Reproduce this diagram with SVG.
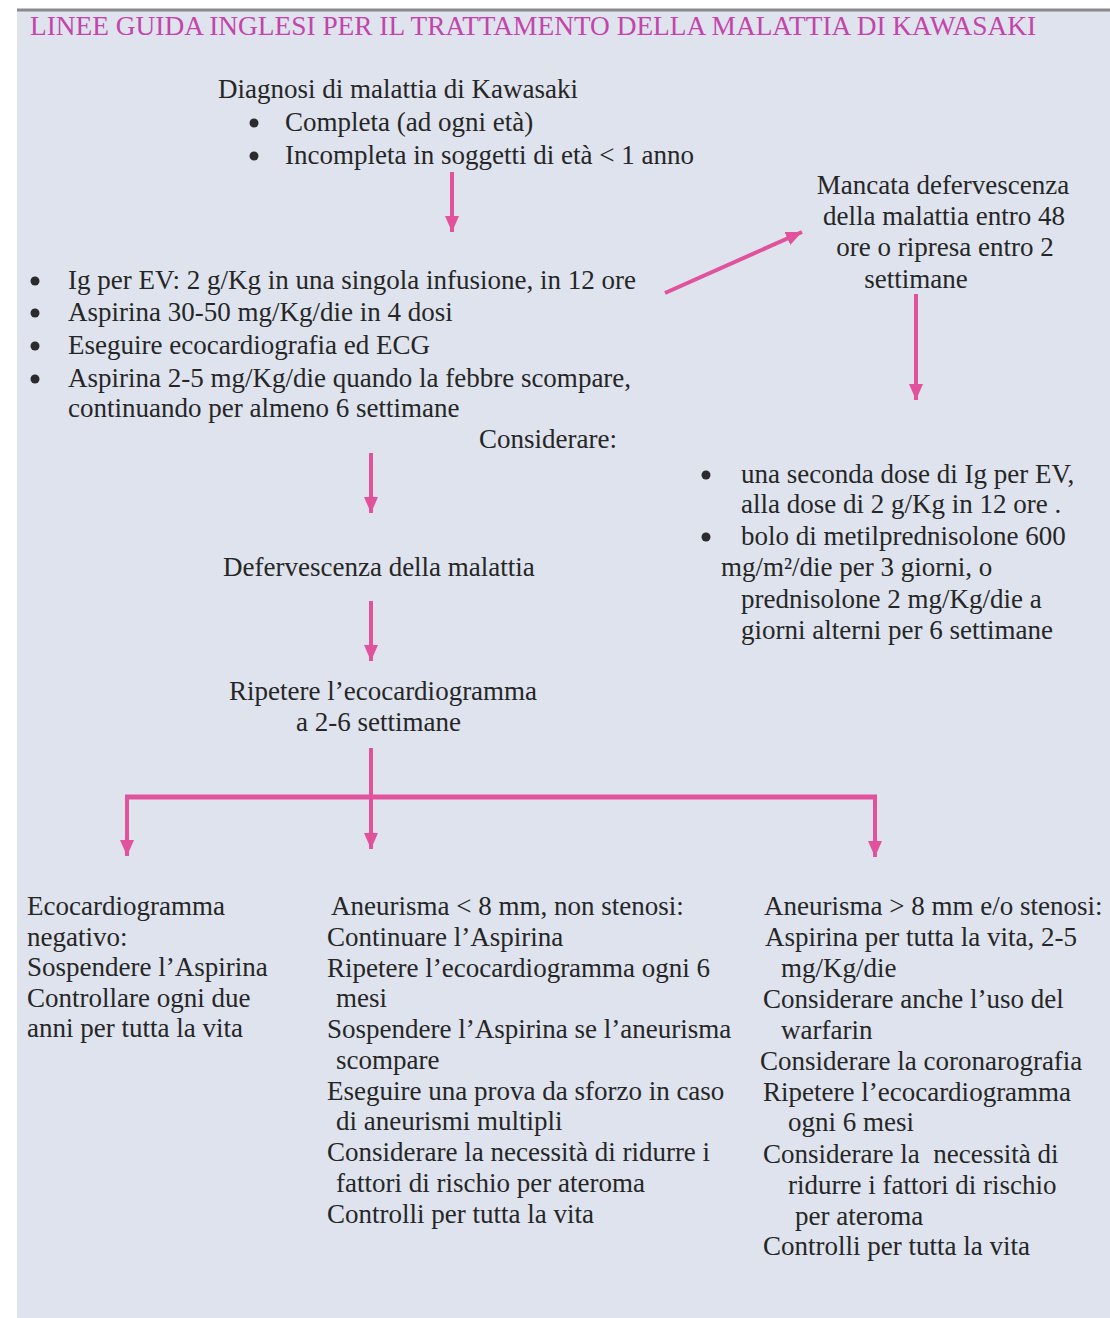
<svg xmlns="http://www.w3.org/2000/svg" width="1110" height="1318" viewBox="0 0 1110 1318">
<style>
  text { font-family: "Liberation Serif", "Times New Roman", serif; font-size: 27px; fill: #262626; }
  .title { fill: #c444ac; font-size: 28px; }
  .c { text-anchor: middle; }
  .dot { fill: #2b2b2b; }
  .arr { stroke: #e2529c; stroke-width: 4; fill: none; }
  .bar { stroke: #e2529c; stroke-width: 5; fill: none; }
</style>
<defs>
  <marker id="ah" viewBox="0 0 16 14" refX="16" refY="7" markerWidth="16" markerHeight="14" markerUnits="userSpaceOnUse" orient="auto">
    <path d="M0,0 L16,7 L0,14 z" fill="#e2529c"/>
  </marker>
</defs>
<rect x="0" y="0" width="1110" height="1318" fill="#ffffff"/>
<rect x="17" y="10" width="1093" height="1308" fill="#dee3ed"/>
<line x1="17" y1="10" x2="1110" y2="10" stroke="#8a8a8a" stroke-width="3"/>

<g id="title">
  <text class="title" x="30" y="35" textLength="1006" lengthAdjust="spacingAndGlyphs">LINEE GUIDA INGLESI PER IL TRATTAMENTO DELLA MALATTIA DI KAWASAKI</text>
</g>

<g id="diagnosi">
  <text x="218" y="98">Diagnosi di malattia di Kawasaki</text>
  <circle class="dot" cx="254" cy="123" r="4.5"/>
  <text x="285" y="131">Completa (ad ogni età)</text>
  <circle class="dot" cx="254" cy="156" r="4.5"/>
  <text x="285" y="164">Incompleta in soggetti di età &lt; 1 anno</text>
</g>

<g id="mancata">
  <text class="c" x="943" y="194">Mancata defervescenza</text>
  <text class="c" x="944" y="225">della malattia entro 48</text>
  <text class="c" x="945" y="256">ore o ripresa entro 2</text>
  <text class="c" x="916" y="288">settimane</text>
</g>

<g id="terapia">
  <circle class="dot" cx="35" cy="281" r="4.5"/>
  <text x="68" y="289">Ig per EV: 2 g/Kg in una singola infusione, in 12 ore</text>
  <circle class="dot" cx="35" cy="313" r="4.5"/>
  <text x="68" y="321">Aspirina 30-50 mg/Kg/die in 4 dosi</text>
  <circle class="dot" cx="35" cy="346" r="4.5"/>
  <text x="68" y="354">Eseguire ecocardiografia ed ECG</text>
  <circle class="dot" cx="35" cy="379" r="4.5"/>
  <text x="68" y="387">Aspirina 2-5 mg/Kg/die quando la febbre scompare,</text>
  <text x="68" y="417">continuando per almeno 6 settimane</text>
  <text x="479" y="448">Considerare:</text>
</g>

<g id="seconda-linea">
  <circle class="dot" cx="706" cy="475" r="4.5"/>
  <text x="741" y="483">una seconda dose di Ig per EV,</text>
  <text x="741" y="513">alla dose di 2 g/Kg in 12 ore .</text>
  <circle class="dot" cx="706" cy="537" r="4.5"/>
  <text x="741" y="545">bolo di metilprednisolone 600</text>
  <text x="721" y="576">mg/m²/die per 3 giorni, o</text>
  <text x="741" y="608">prednisolone 2 mg/Kg/die a</text>
  <text x="741" y="639">giorni alterni per 6 settimane</text>
</g>

<g id="defervescenza">
  <text x="223" y="576">Defervescenza della malattia</text>
</g>

<g id="ripetere">
  <text x="229" y="700">Ripetere l’ecocardiogramma</text>
  <text x="296" y="731">a 2-6 settimane</text>
</g>

<g id="negativo">
  <text x="27" y="915">Ecocardiogramma</text>
  <text x="27" y="946">negativo:</text>
  <text x="27" y="976">Sospendere l’Aspirina</text>
  <text x="27" y="1007">Controllare ogni due</text>
  <text x="27" y="1037">anni per tutta la vita</text>
</g>

<g id="aneurisma-piccolo">
  <text x="331" y="915">Aneurisma &lt; 8 mm, non stenosi:</text>
  <text x="327" y="946">Continuare l’Aspirina</text>
  <text x="327" y="977">Ripetere l’ecocardiogramma ogni 6</text>
  <text x="336" y="1007">mesi</text>
  <text x="327" y="1038">Sospendere l’Aspirina se l’aneurisma</text>
  <text x="336" y="1069">scompare</text>
  <text x="327" y="1100">Eseguire una prova da sforzo in caso</text>
  <text x="336" y="1130">di aneurismi multipli</text>
  <text x="327" y="1161">Considerare la necessità di ridurre i</text>
  <text x="336" y="1192">fattori di rischio per ateroma</text>
  <text x="327" y="1223">Controlli per tutta la vita</text>
</g>

<g id="aneurisma-grande">
  <text x="764" y="915">Aneurisma &gt; 8 mm e/o stenosi:</text>
  <text x="765" y="946">Aspirina per tutta la vita, 2-5</text>
  <text x="781" y="977">mg/Kg/die</text>
  <text x="763" y="1008">Considerare anche l’uso del</text>
  <text x="781" y="1039">warfarin</text>
  <text x="760" y="1070">Considerare la coronarografia</text>
  <text x="763" y="1101">Ripetere l’ecocardiogramma</text>
  <text x="788" y="1131">ogni 6 mesi</text>
  <text x="763" y="1163" xml:space="preserve">Considerare la  necessità di</text>
  <text x="788" y="1194">ridurre i fattori di rischio</text>
  <text x="795" y="1225">per ateroma</text>
  <text x="763" y="1255">Controlli per tutta la vita</text>
</g>

<g id="connectors">
  <line class="arr" x1="452" y1="172" x2="452" y2="232" marker-end="url(#ah)"/>
  <line class="arr" x1="665" y1="293" x2="802" y2="232" marker-end="url(#ah)"/>
  <line class="arr" x1="916" y1="294" x2="916" y2="400" marker-end="url(#ah)"/>
  <line class="arr" x1="371" y1="453" x2="371" y2="513" marker-end="url(#ah)"/>
  <line class="arr" x1="371" y1="601" x2="371" y2="661" marker-end="url(#ah)"/>
  <line class="arr" x1="371" y1="748" x2="371" y2="797"/>
  <line class="bar" x1="125" y1="797" x2="877" y2="797"/>
  <line class="arr" x1="127" y1="797" x2="127" y2="856" marker-end="url(#ah)"/>
  <line class="arr" x1="371" y1="797" x2="371" y2="849" marker-end="url(#ah)"/>
  <line class="arr" x1="875" y1="797" x2="875" y2="857" marker-end="url(#ah)"/>
</g>
</svg>
